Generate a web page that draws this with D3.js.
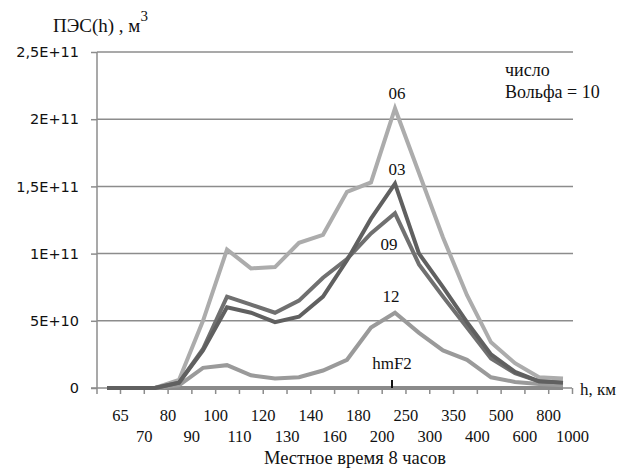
<!DOCTYPE html>
<html><head><meta charset="utf-8">
<script src="https://cdn.jsdelivr.net/npm/d3@7"></script>
<style>body{margin:0;background:#fff}svg{display:block}</style>
</head><body>
<svg id="c" width="629" height="470"></svg>
<script>
const categories = ["65","70","80","90","100","110","120","130","140","160","180","200","250","300","350","400","500","600","800","1000"];
// values in units of 1E10 m^3
const s06 = [0,0,0,0.6,5.0,10.3,8.9,9.0,10.8,11.4,14.6,15.3,20.8,16.0,11.2,6.9,3.4,1.85,0.8,0.7];
const s03 = [0,0,0,0.4,2.8,6.0,5.6,4.9,5.3,6.8,9.5,12.6,15.2,10.0,7.5,4.9,2.5,1.2,0.5,0.4];
const s09 = [0,0,0,0.4,2.9,6.8,6.2,5.6,6.5,8.2,9.6,11.5,13.0,9.2,6.8,4.5,2.2,1.1,0.5,0.4];
const s12 = [0,0,0,0.2,1.5,1.7,0.95,0.7,0.8,1.3,2.1,4.5,5.6,4.1,2.8,2.1,0.8,0.45,0.3,0.2];
const sBase = [0,0,0,0,0,0,0,0,0,0,0,0,0,0,0,0,0,0,0,0];
const yTicks = [0,5,10,15,20,25];
const yTickLabels = ["0","5E+10","1E+11","1,5E+11","2E+11","2,5E+11"];
const hmF2Cat = "250";

const svg = d3.select("#c");
const x = d3.scalePoint().domain(categories).range([107,563]);
const xt = d3.scalePoint().domain(categories).range([120,572]);
const y = d3.scaleLinear().domain([0,25]).range([388,52]);
const serif = "'Liberation Serif','Times New Roman',serif";
const ink = "#111";

// gridlines
svg.append("g").selectAll("line").data(yTicks.slice(1)).join("line")
  .attr("x1",97).attr("x2",573).attr("y1",d=>y(d)).attr("y2",d=>y(d))
  .attr("stroke","#8c8c8c").attr("stroke-width",1.5);

// y axis
const ya = svg.append("g").attr("transform","translate(97,0)")
  .call(d3.axisLeft(y).tickValues(yTicks).tickSize(6).tickFormat((d,i)=>yTickLabels[i]));
ya.select(".domain").attr("stroke","#8c8c8c").attr("stroke-width",1.5).attr("d","M0,52V394");
ya.selectAll(".tick line").attr("stroke","#8c8c8c").attr("stroke-width",1.5);
ya.selectAll(".tick text").attr("x",-18).attr("font-family","'DejaVu Sans',sans-serif")
  .attr("font-size",14.5).attr("fill",ink);

// x axis
const xa = svg.append("g").attr("transform","translate(0,388)")
  .call(d3.axisBottom(xt).tickSize(6).tickFormat(d=>d));
xa.select(".domain").attr("stroke","#8c8c8c").attr("stroke-width",1.5).attr("d","M91,0H572");
xa.selectAll(".tick line").attr("stroke","#8c8c8c").attr("stroke-width",1.5);
xa.selectAll(".tick text").attr("font-family",serif).attr("font-size",16.5).attr("fill",ink)
  .attr("dy",0).attr("y",(d,i)=> i%2===0 ? 33 : 54);

// lines
const line = d3.line().x((d,i)=>x(categories[i])).y(d=>y(d));
const series = [
  {v:sBase,c:"#8a8a8a",w:4},
  {v:s12,c:"#9a9a9a",w:4},
  {v:s06,c:"#acacac",w:4},
  {v:s09,c:"#707070",w:4},
  {v:s03,c:"#606060",w:4}
];
svg.append("g").selectAll("path").data(series).join("path")
  .attr("d",d=>line(d.v)).attr("fill","none").attr("stroke",d=>d.c)
  .attr("stroke-width",d=>d.w).attr("stroke-linejoin","miter");

// hmF2 marker
svg.append("line").attr("x1",x(hmF2Cat)-3).attr("x2",x(hmF2Cat)-3).attr("y1",380).attr("y2",388)
  .attr("stroke","#111").attr("stroke-width",2);

// labels
const lbl = (t,xx,yy,anchor="middle",size=17)=>svg.append("text").attr("x",xx).attr("y",yy)
  .attr("text-anchor",anchor).attr("font-family",serif).attr("font-size",size).attr("fill",ink).text(t);
lbl("06",x("250")+2,99);
lbl("03",x("250")+2,175);
lbl("09",x("250")-6,250);
lbl("12",x("250")-4,302);
lbl("hmF2",x("250")-3,369);
lbl("число",505,76,"start",18);
lbl("Вольфа = 10",505,98,"start",18);
lbl("h, км",580,395,"start",17);
lbl("Местное время 8 часов",355,464,"middle",18.5);
const yl = svg.append("text").attr("x",53).attr("y",32).attr("font-family",serif).attr("font-size",19).attr("fill",ink);
yl.append("tspan").text("ПЭС(h) , м");
yl.append("tspan").attr("dy",-11).attr("font-size",15).text("3");
</script>
</body></html>
